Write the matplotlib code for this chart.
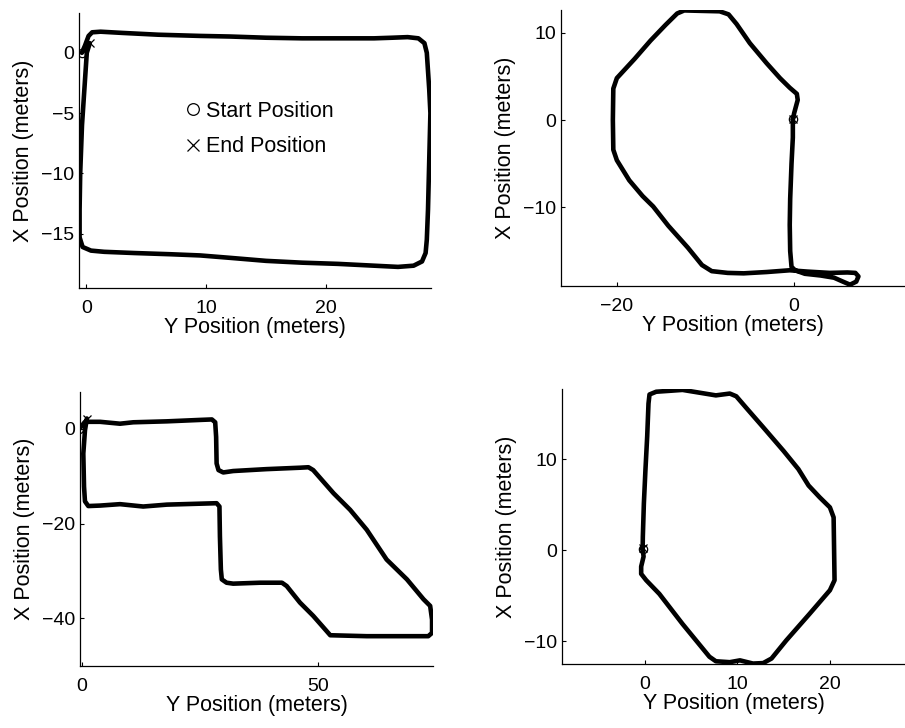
import numpy as np
import matplotlib
matplotlib.use('Agg')
import matplotlib.pyplot as plt

plt.rcParams['font.family'] = ['Liberation Sans', 'DejaVu Sans']

# trajectory 1 (rectangle)
traj1_y = [-0.36, -0.1, 0.2, 0.5, 1.2, 3, 6, 9.5, 12, 15, 18, 21, 24, 25.5, 26.8, 27.7,
           28.2, 28.4, 28.6, 28.7, 28.6, 28.5, 28.4, 28.3, 28.0, 27.3, 26, 24, 21, 18,
           15, 12, 9.5, 7, 4, 1.5, 0.4, -0.3, -0.55, -0.55, -0.5, -0.35, -0.15, 0.05, 0.3]
traj1_x = [0, 0.6, 1.4, 1.7, 1.75, 1.65, 1.5, 1.4, 1.35, 1.25, 1.2, 1.2, 1.2, 1.25, 1.3, 1.2,
           0.8, 0, -3, -5, -9, -13, -15.5, -16.6, -17.3, -17.65, -17.75, -17.65, -17.5, -17.4,
           -17.25, -17.0, -16.8, -16.7, -16.6, -16.5, -16.4, -16.1, -15.3, -13, -10, -6, -3, 0, 0.8]

# trajectory 2 (octagon with loop)
traj2_y = [-0.15, 0.0, 0.4, 0.3, -0.5, -1.6, -3.1, -5, -6.5, -7.4, -8.4, -10.5, -12.4, -13.2,
           -14.5, -16.2, -18, -20, -20.4, -20.45, -20.4, -20, -18.6, -17.1, -15.9, -14.2, -12,
           -10.4, -9.3, -7.5, -5.7, -3.1, -0.5, 1.5, 4, 6, 6.9, 7.25, 7.0, 6.3, 5.5, 4.5,
           3, 1.2, 0.1, -0.3, -0.45, -0.5, -0.45, -0.3, -0.15, -0.15]
traj2_x = [0.1, 0.8, 2.3, 3.0, 3.7, 4.8, 6.5, 8.8, 11, 12.1, 12.45, 12.5, 12.55, 12.2,
           10.9, 9.1, 7, 4.8, 3.6, 0, -3.4, -4.6, -6.9, -8.7, -9.9, -12.1, -14.6,
           -16.6, -17.3, -17.5, -17.55, -17.4, -17.2, -17.35, -17.5, -17.45, -17.5, -17.9,
           -18.5, -18.85, -18.5, -18.05, -17.8, -17.6, -17.2, -16.8, -15, -12, -9, -5, -2, 0.1]

# trajectory 3 (stepped loop)
traj3_y = [-0.5, 0.7, 3.9, 8.1, 10.9, 18, 25, 27.5, 28.2, 28.4, 28.5, 28.9, 29.9, 32, 39,
           46.1, 47.9, 48.9, 53.2, 56.7, 60.2, 64.4, 68.7, 72.2, 73.6, 74, 74, 73.2, 67.3,
           60.2, 52.5, 51.1, 48.9, 46.1, 43.3, 42.3, 37.7, 32, 30.6, 29.6, 29.4, 29.2, 29.1,
           28.5, 25, 18, 13, 8.1, 3.9, 1.4, 0.7, 0.5, 0.35, 0.7, 1.1]
traj3_x = [0, 1.5, 1.5, 1.1, 1.4, 1.6, 1.9, 2.0, 1.4, -1.7, -7.3, -8.7, -9.2, -8.9, -8.5,
           -8.2, -8.1, -8.7, -13.6, -17.1, -21.3, -27.6, -31.8, -36.0, -37.4, -40.3, -43.1, -43.8, -43.8,
           -43.8, -43.6, -42.0, -39.5, -36.7, -33.2, -32.5, -32.5, -32.7, -32.5, -31.8, -29.7, -22.7, -16.4,
           -15.7, -15.8, -16.0, -16.4, -15.9, -16.2, -16.3, -15.3, -12.2, -5.2, -0.3, 2.2]

# trajectory 4 (octagon)
traj4_y = [-0.2, -0.18, -0.07, 0.1, 0.29, 0.43, 0.54, 1.26, 2.7, 4.1, 5.9, 7.7, 9.2, 9.9, 11,
           12.8, 15, 16.6, 17.7, 18.9, 20, 20.4, 20.5, 20, 17.8, 15.3, 13.7, 12.8, 11.7, 10.3,
           9.2, 7.7, 7, 4.1, 1.6, 0.18, -0.36, -0.36, -0.1, -0.2]
traj4_x = [0.1, 1.47, 5.1, 8.8, 12.5, 16.1, 17.1, 17.4, 17.5, 17.6, 17.3, 17.0, 17.2, 16.9, 15.6,
           13.5, 10.9, 8.9, 7.1, 5.8, 4.7, 3.6, -3.3, -4.4, -7.0, -9.9, -11.9, -12.4, -12.45, -12.1,
           -12.3, -12.2, -11.7, -8.1, -4.8, -3.3, -2.6, -1.8, -0.7, 0.2]

trajs = [(traj1_y, traj1_x), (traj2_y, traj2_x), (traj3_y, traj3_x), (traj4_y, traj4_x)]

# axes limits and ticks
xlims = [(-0.6, 28.75), (-26.3, 12.5), (-0.35, 74.2), (-8.9, 28.1)]
ylims = [(-19.5, 3.3), (-19.0, 12.6), (-50.1, 7.8), (-12.5, 17.7)]
xticks = [[0, 10, 20], [-20, 0], [0, 50], [0, 10, 20]]
yticks = [[-15, -10, -5, 0], [-10, 0, 10], [-40, -20, 0], [-10, 0, 10]]

positions = [
    [79 / 905, 1 - 288 / 728, 352 / 905, 275 / 728],
    [561 / 905, 1 - 286 / 728, 344 / 905, 276 / 728],
    [80 / 905, 1 - 666 / 728, 353 / 905, 274 / 728],
    [562 / 905, 1 - 664 / 728, 343 / 905, 275 / 728],
]

fig = plt.figure(figsize=(9.05, 7.28), dpi=100)

for i in range(4):
    ax = fig.add_axes(positions[i])
    ty, tx = trajs[i]
    ax.plot(ty, tx, color='black', lw=3.3, solid_joinstyle='round', solid_capstyle='round')
    ax.plot(ty[0], tx[0], 'o', mfc='none', mec='black', ms=6, mew=0.9, label='Start Position')
    ax.plot(ty[-1], tx[-1], 'x', color='black', ms=6, mew=0.9, label='End Position')
    ax.set_xlim(xlims[i])
    ax.set_ylim(ylims[i])
    ax.set_xticks(xticks[i])
    ax.set_yticks(yticks[i])
    ax.spines['top'].set_visible(False)
    ax.spines['right'].set_visible(False)
    ax.spines['left'].set_linewidth(0.9)
    ax.spines['bottom'].set_linewidth(0.9)
    ax.tick_params(direction='in', length=3, width=0.8, labelsize=14)
    ax.tick_params(axis='x', pad=8.5)
    ax.tick_params(axis='y', pad=3.5)
    ax.set_xlabel('Y Position (meters)', fontsize=15.5, labelpad=0)
    ax.set_ylabel('X Position (meters)', fontsize=15.5, labelpad=5)
    if i == 0:
        ax.legend(loc='center', bbox_to_anchor=(0.516, 0.578), frameon=False, fontsize=15.5,
                  handlelength=0.5, handletextpad=0.35, labelspacing=0.68, numpoints=1,
                  markerscale=1.4)

plt.savefig('out.png', dpi=100)
